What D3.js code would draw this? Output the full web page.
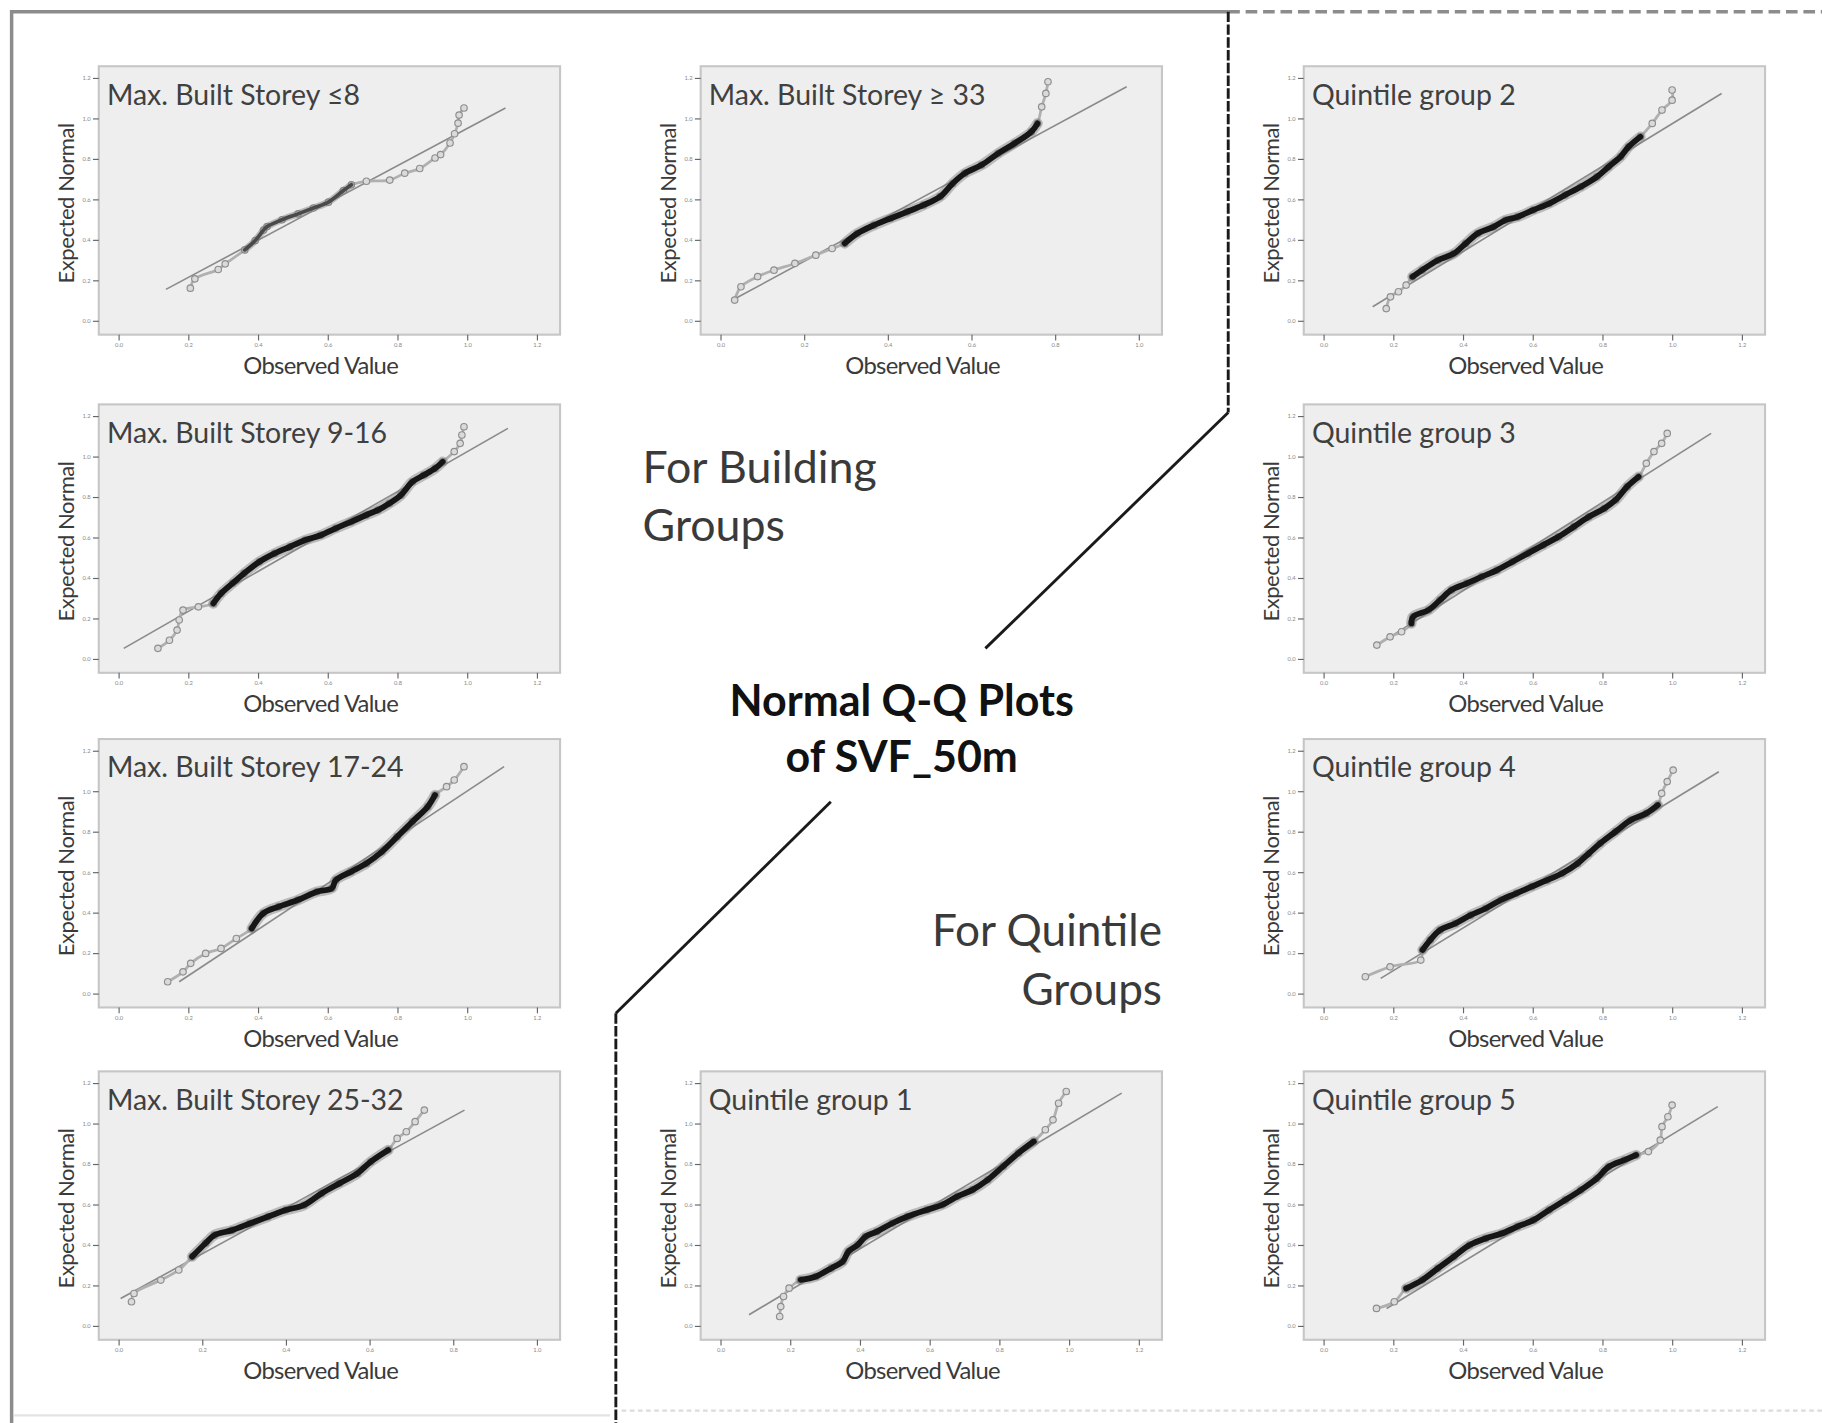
<!DOCTYPE html>
<html>
<head>
<meta charset="utf-8">
<script src="https://cdn.jsdelivr.net/npm/d3@7"></script>
<style>
  body { margin: 0; background: #fff; }
  text { font-family: Lato, "Open Sans", sans-serif; }
</style>
</head>
<body>
<div id="container"></div>
<script>
/* CONSTANTS AND GLOBALS */
const width = 1822;
const height = 1423;
const vbW = 1568;
const vbH = 1224.6;

const panelW = 397;
const panelH = 231;
const colX = [85, 603, 1122];
const rowY = [57, 348, 636, 922];

const xTicks7 = [0.0, 0.2, 0.4, 0.6, 0.8, 1.0, 1.2];
const xTicks6 = [0.0, 0.2, 0.4, 0.6, 0.8, 1.0];
const yTicks = [0.0, 0.2, 0.4, 0.6, 0.8, 1.0, 1.2];

const storeyLe8 = [[0.206,0.161],[0.219,0.207],[0.286,0.253],[0.306,0.281],[0.362,0.350],[0.392,0.396],[0.416,0.448],[0.426,0.465],[0.469,0.499],[0.515,0.528],[0.559,0.557],[0.602,0.586],[0.645,0.643],[0.668,0.672],[0.711,0.689],[0.778,0.695],[0.821,0.729],[0.864,0.752],[0.908,0.804],[0.924,0.821],[0.951,0.878],[0.964,0.924],[0.974,0.976],[0.977,1.016],[0.991,1.051]];
const storey9to16 = [[0.113,0.052],[0.146,0.092],[0.168,0.142],[0.174,0.192],[0.185,0.241],[0.229,0.257],[0.272,0.274],[0.294,0.323],[0.327,0.373],[0.360,0.422],[0.404,0.480],[0.448,0.521],[0.492,0.554],[0.536,0.587],[0.580,0.611],[0.623,0.645],[0.667,0.677],[0.711,0.711],[0.744,0.735],[0.777,0.768],[0.810,0.809],[0.843,0.875],[0.876,0.908],[0.908,0.941],[0.930,0.974],[0.963,1.024],[0.980,1.065],[0.985,1.106],[0.991,1.147]];
const storey17to24 = [[0.141,0.058],[0.185,0.107],[0.207,0.149],[0.250,0.198],[0.294,0.223],[0.338,0.272],[0.382,0.321],[0.415,0.396],[0.459,0.429],[0.514,0.462],[0.569,0.503],[0.612,0.520],[0.623,0.560],[0.667,0.602],[0.711,0.643],[0.755,0.700],[0.799,0.774],[0.843,0.849],[0.887,0.923],[0.908,0.981],[0.941,1.022],[0.963,1.055],[0.991,1.121]];
const storey25to32 = [[0.031,0.119],[0.037,0.160],[0.101,0.226],[0.144,0.276],[0.176,0.342],[0.208,0.408],[0.229,0.448],[0.272,0.473],[0.314,0.506],[0.357,0.539],[0.400,0.572],[0.443,0.596],[0.485,0.654],[0.528,0.704],[0.571,0.753],[0.603,0.811],[0.645,0.869],[0.666,0.926],[0.688,0.959],[0.709,1.009],[0.731,1.066]];
const storeyGe33 = [[0.034,0.102],[0.049,0.168],[0.089,0.218],[0.128,0.250],[0.178,0.283],[0.228,0.324],[0.267,0.357],[0.297,0.382],[0.327,0.431],[0.367,0.472],[0.406,0.505],[0.446,0.538],[0.485,0.571],[0.525,0.613],[0.555,0.678],[0.584,0.728],[0.624,0.769],[0.664,0.827],[0.703,0.876],[0.743,0.933],[0.758,0.975],[0.768,1.057],[0.778,1.123],[0.783,1.181]];
const quintile1 = [[0.170,0.046],[0.173,0.095],[0.181,0.145],[0.197,0.186],[0.230,0.227],[0.274,0.244],[0.318,0.285],[0.351,0.318],[0.367,0.367],[0.394,0.400],[0.416,0.441],[0.449,0.466],[0.493,0.507],[0.537,0.540],[0.592,0.573],[0.636,0.598],[0.680,0.640],[0.723,0.672],[0.767,0.722],[0.811,0.788],[0.855,0.854],[0.899,0.911],[0.932,0.969],[0.954,1.018],[0.970,1.100],[0.992,1.158]];
const quintile2 = [[0.180,0.060],[0.192,0.118],[0.215,0.143],[0.237,0.176],[0.255,0.217],[0.283,0.250],[0.328,0.299],[0.374,0.332],[0.408,0.382],[0.442,0.431],[0.488,0.464],[0.522,0.497],[0.556,0.513],[0.602,0.547],[0.647,0.579],[0.693,0.621],[0.738,0.662],[0.784,0.711],[0.818,0.761],[0.852,0.810],[0.875,0.859],[0.909,0.909],[0.943,0.975],[0.971,1.041],[1.000,1.090],[1.000,1.140]];
const quintile3 = [[0.153,0.068],[0.191,0.109],[0.224,0.134],[0.252,0.175],[0.257,0.208],[0.301,0.241],[0.334,0.290],[0.367,0.340],[0.411,0.373],[0.454,0.406],[0.498,0.439],[0.542,0.480],[0.586,0.521],[0.630,0.562],[0.674,0.603],[0.718,0.653],[0.761,0.702],[0.805,0.743],[0.838,0.785],[0.871,0.851],[0.904,0.900],[0.926,0.966],[0.948,1.024],[0.970,1.065],[0.986,1.114]];
const quintile4 = [[0.120,0.083],[0.191,0.132],[0.279,0.165],[0.284,0.215],[0.306,0.264],[0.334,0.313],[0.378,0.346],[0.422,0.387],[0.465,0.420],[0.509,0.462],[0.553,0.495],[0.597,0.528],[0.641,0.560],[0.685,0.594],[0.729,0.643],[0.761,0.692],[0.794,0.742],[0.838,0.800],[0.882,0.857],[0.926,0.890],[0.959,0.931],[0.970,0.989],[0.986,1.047],[1.003,1.104]];
const quintile5 = [[0.152,0.086],[0.203,0.119],[0.237,0.185],[0.283,0.226],[0.328,0.284],[0.374,0.342],[0.419,0.399],[0.465,0.432],[0.511,0.456],[0.556,0.490],[0.602,0.522],[0.647,0.572],[0.693,0.621],[0.738,0.671],[0.784,0.728],[0.818,0.786],[0.863,0.819],[0.897,0.844],[0.932,0.861],[0.966,0.918],[0.971,0.984],[0.988,1.033],[1.000,1.091]];

// reference line end points [[x0, y0], [x1, y1]]
const refLines = {
  le8:   [[0.136,0.155],[1.110,1.051]],
  s9:    [[0.015,0.052],[1.117,1.139]],
  s17:   [[0.174,0.058],[1.106,1.121]],
  s25:   [[0.005,0.135],[0.827,1.066]],
  ge33:  [[0.029,0.102],[0.971,1.156]],
  q1:    [[0.082,0.055],[1.151,1.150]],
  q2:    [[0.141,0.069],[1.142,1.123]],
  q3:    [[0.147,0.060],[1.112,1.114]],
  q4:    [[0.164,0.075],[1.134,1.096]],
  q5:    [[0.181,0.086],[1.131,1.083]]
};

// observed range where the points pile up into a dense band
const denseRanges = {
  le8: [0.36, 0.67], s9: [0.27, 0.93], s17: [0.38, 0.92], s25: [0.17, 0.65],
  ge33: [0.29, 0.76], q1: [0.23, 0.93], q2: [0.24, 0.93], q3: [0.25, 0.92],
  q4: [0.28, 0.96], q5: [0.23, 0.93]
};

const panels = [
  { id: "le8",  title: "Max. Built Storey \u22648",   row: 0, col: 0, data: storeyLe8,    ticks: xTicks7 },
  { id: "s9",   title: "Max. Built Storey 9-16",      row: 1, col: 0, data: storey9to16,  ticks: xTicks7 },
  { id: "s17",  title: "Max. Built Storey 17-24",     row: 2, col: 0, data: storey17to24, ticks: xTicks7 },
  { id: "s25",  title: "Max. Built Storey 25-32",     row: 3, col: 0, data: storey25to32, ticks: xTicks6 },
  { id: "ge33", title: "Max. Built Storey \u2265 33", row: 0, col: 1, data: storeyGe33,   ticks: xTicks6 },
  { id: "q1",   title: "Quintile group 1",            row: 3, col: 1, data: quintile1,    ticks: xTicks7 },
  { id: "q2",   title: "Quintile group 2",            row: 0, col: 2, data: quintile2,    ticks: xTicks7 },
  { id: "q3",   title: "Quintile group 3",            row: 1, col: 2, data: quintile3,    ticks: xTicks7 },
  { id: "q4",   title: "Quintile group 4",            row: 2, col: 2, data: quintile4,    ticks: xTicks7 },
  { id: "q5",   title: "Quintile group 5",            row: 3, col: 2, data: quintile5,    ticks: xTicks7 }
];

/* SVG */
const svg = d3.select("#container")
  .append("svg")
  .attr("width", width)
  .attr("height", height)
  .attr("viewBox", `0 0 ${vbW} ${vbH}`);

svg.append("rect").attr("width", vbW).attr("height", vbH).attr("fill", "#fff");

// frame and dividers
svg.append("path")
  .attr("d", "M10,1225 L10,10 L1057,10")
  .attr("fill", "none").attr("stroke", "#8c8c8c").attr("stroke-width", 3);
svg.append("line")
  .attr("x1", 1057).attr("y1", 10).attr("x2", 1568).attr("y2", 10)
  .attr("stroke", "#8c8c8c").attr("stroke-width", 3).attr("stroke-dasharray", "10,5");
svg.append("path")
  .attr("d", "M1057,10 L1057,355")
  .attr("fill", "none").attr("stroke", "#1a1a1a").attr("stroke-width", 2.5).attr("stroke-dasharray", "9,2");
svg.append("path")
  .attr("d", "M1057,355 L848,558")
  .attr("fill", "none").attr("stroke", "#1a1a1a").attr("stroke-width", 2.5);
svg.append("path")
  .attr("d", "M715,690 L530,872")
  .attr("fill", "none").attr("stroke", "#1a1a1a").attr("stroke-width", 2.5);
svg.append("path")
  .attr("d", "M530,872 L530,1225")
  .attr("fill", "none").attr("stroke", "#1a1a1a").attr("stroke-width", 2.5).attr("stroke-dasharray", "9,2");
svg.append("line")
  .attr("x1", 535).attr("y1", 1214).attr("x2", 1568).attr("y2", 1214)
  .attr("stroke", "#dcdcdc").attr("stroke-width", 2).attr("stroke-dasharray", "4,3");
svg.append("line")
  .attr("x1", 12).attr("y1", 1218).attr("x2", 525).attr("y2", 1218)
  .attr("stroke", "#e4e4e4").attr("stroke-width", 2);

// centre labels
const bigText = (x, y, str, opts) => svg.append("text")
  .attr("x", x).attr("y", y)
  .attr("text-anchor", opts.anchor || "start")
  .attr("font-size", opts.size)
  .attr("font-weight", opts.weight || "normal")
  .attr("fill", opts.fill || "#3a3a3a")
  .text(str);

bigText(553, 416, "For Building", { size: 38.5 });
bigText(553, 466, "Groups", { size: 38.5 });
bigText(776, 616, "Normal Q-Q Plots", { size: 37, weight: "bold", anchor: "middle", fill: "#111" });
bigText(776, 664, "of SVF_50m", { size: 37, weight: "bold", anchor: "middle", fill: "#111" });
bigText(1000, 814, "For Quintile", { size: 38, anchor: "end" });
bigText(1000, 865, "Groups", { size: 38, anchor: "end" });

/* PANELS */
panels.forEach(p => {
  const left = colX[p.col];
  const top = rowY[p.row];
  const g = svg.append("g").attr("transform", `translate(${left}, ${top})`);

  const xScale = d3.scaleLinear()
    .domain([p.ticks[0], p.ticks[p.ticks.length - 1]])
    .range([17, 377]);
  const yScale = d3.scaleLinear()
    .domain([yTicks[0], yTicks[yTicks.length - 1]])
    .range([219, 10]);

  g.append("rect")
    .attr("width", panelW).attr("height", panelH)
    .attr("fill", "#eeeeee").attr("stroke", "#c6c6c6").attr("stroke-width", 1.8);

  // axes
  const xAxis = d3.axisBottom(xScale).tickValues(p.ticks).tickSize(5).tickPadding(2).tickFormat(d3.format(".1f"));
  const yAxis = d3.axisLeft(yScale).tickValues(yTicks).tickSize(5).tickPadding(2).tickFormat(d3.format(".1f"));

  const gx = g.append("g").attr("transform", `translate(0, ${panelH})`).call(xAxis);
  const gy = g.append("g").call(yAxis);
  [gx, gy].forEach(ax => {
    ax.select(".domain").remove();
    ax.selectAll("line").attr("stroke", "#666").attr("stroke-width", 1);
    ax.selectAll("text").attr("font-size", 5).attr("fill", "#888")
      .attr("font-family", "'Liberation Sans', Arial, sans-serif");
  });

  g.append("text")
    .attr("x", 191).attr("y", panelH + 34)
    .attr("text-anchor", "middle")
    .attr("font-family", "'Liberation Sans', Arial, sans-serif")
    .attr("font-size", 20.5).attr("letter-spacing", -0.6)
    .attr("fill", "#3a3a3a")
    .text("Observed Value");

  g.append("text")
    .attr("transform", `translate(-21, 118) rotate(-90)`)
    .attr("text-anchor", "middle")
    .attr("font-family", "'Liberation Sans', Arial, sans-serif")
    .attr("font-size", 19).attr("letter-spacing", -0.4)
    .attr("fill", "#3a3a3a")
    .text("Expected Normal");

  // reference line
  const ref = refLines[p.id];
  g.append("line")
    .attr("x1", xScale(ref[0][0])).attr("y1", yScale(ref[0][1]))
    .attr("x2", xScale(ref[1][0])).attr("y2", yScale(ref[1][1]))
    .attr("stroke", "#8a8a8a").attr("stroke-width", 1.4);

  const line = d3.line().x(d => xScale(d[0])).y(d => yScale(d[1])).curve(d3.curveCatmullRom);

  // faint chain of all points
  g.append("path")
    .datum(p.data)
    .attr("d", line)
    .attr("fill", "none").attr("stroke", "#b0b0b0").attr("stroke-width", 2.4)
    .attr("stroke-linecap", "round");

  g.selectAll(".pt")
    .data(p.data)
    .join("circle")
    .attr("class", "pt")
    .attr("cx", d => xScale(d[0]))
    .attr("cy", d => yScale(d[1]))
    .attr("r", 2.8)
    .attr("fill", "#dadada")
    .attr("stroke", "#8e8e8e")
    .attr("stroke-width", 1);

  // dense band
  const dr = denseRanges[p.id];
  const core = p.data.filter(d => d[0] >= dr[0] && d[0] <= dr[1]);
  const light = p.id === "le8";
  g.append("path")
    .datum(core)
    .attr("d", line)
    .attr("fill", "none")
    .attr("stroke", "#7a7a7a")
    .attr("stroke-opacity", 0.45)
    .attr("stroke-width", light ? 6 : 9)
    .attr("stroke-linecap", "round")
    .attr("stroke-linejoin", "round");
  g.append("path")
    .datum(core)
    .attr("d", line)
    .attr("fill", "none")
    .attr("stroke", light ? "#4a4a4a" : "#161616")
    .attr("stroke-width", light ? 3.2 : 5)
    .attr("stroke-linecap", "round")
    .attr("stroke-linejoin", "round");

  g.append("text")
    .attr("x", 7).attr("y", 33)
    .attr("font-size", 24.5)
    .attr("fill", "#404040")
    .text(p.title);
});
</script>
</body>
</html>
